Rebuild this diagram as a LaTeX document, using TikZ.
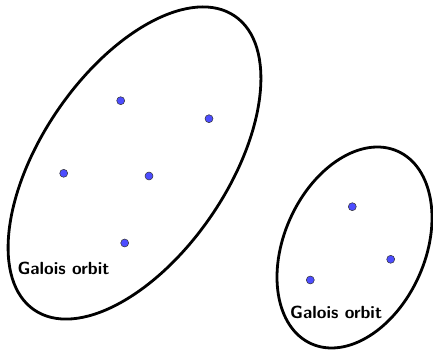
\documentclass[tikz,border=0pt]{standalone}
\begin{document}
\begin{tikzpicture}[x=1pt,y=1pt,
  orbit/.style={draw=black,line width=2.8pt},
  pt/.style={circle,fill={rgb,255:red,77;green,77;blue,255},draw=black!80,line width=0.5pt,inner sep=0pt,minimum size=8pt},
  lbl/.style={font=\sffamily\bfseries\fontsize{17.6}{20}\selectfont,inner sep=0pt,anchor=base west}]
\useasboundingbox (0,0) rectangle (433,350);
\draw[orbit,rotate around={55.7:(134.5,187)}] (134.5,187) ellipse [x radius=177.9pt, y radius=93.2pt];
\draw[orbit,rotate around={65.8:(354.5,102.5)}] (354.5,102.5) ellipse [x radius=105.5pt, y radius=70.5pt];
\node[pt] (p1) at (120.7,249.3) {};
\node[pt] (p2) at (209,231.3) {};
\node[pt] (p3) at (63.7,176.7) {};
\node[pt] (p4) at (149,174) {};
\node[pt] (p5) at (124.7,107) {};
\node[pt] (q1) at (352.3,143.3) {};
\node[pt] (q2) at (390.7,90.7) {};
\node[pt] (q3) at (310.3,70) {};
\node[lbl] (l1) at (17.3,75) {Galois orbit};
\node[lbl] (l2) at (290,31) {Galois orbit};
\end{tikzpicture}
\end{document}
